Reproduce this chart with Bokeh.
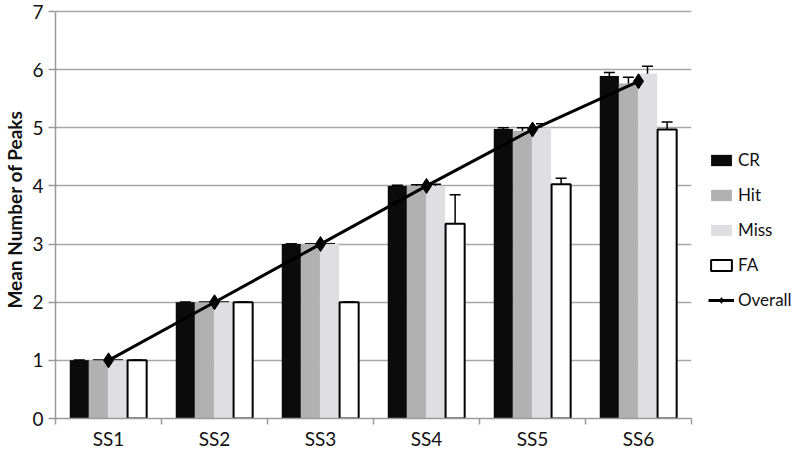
from bokeh.plotting import figure
from bokeh.models import (ColumnDataSource, Range1d, FixedTicker, Whisker, TeeHead,
                          Legend, LegendItem)
from bokeh.embed import file_html
from bokeh.resources import INLINE

categories = ["SS1", "SS2", "SS3", "SS4", "SS5", "SS6"]
series = ["CR", "Hit", "Miss", "FA"]
cr = [1.0, 2.0, 3.0, 4.0, 4.98, 5.89]
hit = [1.0, 2.0, 3.0, 4.0, 4.95, 5.76]
miss = [1.0, 2.0, 3.0, 4.0, 5.0, 5.93]
fa = [1.0, 2.0, 2.0, 3.35, 4.03, 4.97]
cr_err = [0.0, 0.0, 0.0, 0.01, 0.02, 0.06]
hit_err = [0.0, 0.0, 0.0, 0.02, 0.05, 0.11]
miss_err = [0.0, 0.0, 0.0, 0.03, 0.07, 0.13]
fa_err = [0.0, 0.0, 0.0, 0.5, 0.1, 0.13]
overall = [1.0, 2.0, 3.0, 4.0, 4.97, 5.8]
y_ticks = [0, 1, 2, 3, 4, 5, 6, 7]

values = [cr, hit, miss, fa]
errors = [cr_err, hit_err, miss_err, fa_err]
offsets = [-0.275, -0.095, 0.085, 0.27]
fills = ["#0b0b0b", "#b1b1b1", "#dfdfe1", "#ffffff"]
lines = ["#0b0b0b", "#b1b1b1", "#dfdfe1", "#000000"]
line_w = [0, 0, 0, 2]
bar_w = 0.18

FONT = "Lato"

p = figure(frame_width=636, frame_height=418, output_backend="svg", toolbar_location=None,
           x_range=Range1d(0, 6), y_range=Range1d(0, 7.189),
           min_border_left=47, min_border_top=0, min_border_bottom=24,
           min_border_right=101)
p.outline_line_color = None
p.background_fill_color = "white"

centers = [i + 0.5 for i in range(len(categories))]

legend_items = []
for k, name in enumerate(series):
    src = ColumnDataSource(dict(
        x=[c + offsets[k] for c in centers],
        top=values[k],
        upper=[v + e for v, e in zip(values[k], errors[k])],
        lower=[v - e for v, e in zip(values[k], errors[k])],
    ))
    r = p.vbar(x="x", top="top", bottom=0, width=bar_w, source=src,
               fill_color=fills[k], line_color=lines[k],
               line_width=line_w[k] if line_w[k] else 0.1)
    legend_items.append(LegendItem(label=name, renderers=[r]))
    w = Whisker(base="x", upper="upper", lower="lower", source=src,
                line_color="black", line_width=1.5,
                upper_head=TeeHead(size=11, line_color="black", line_width=1.5),
                lower_head=TeeHead(size=11, line_color="black", line_width=1.5))
    p.add_layout(w)

osrc = ColumnDataSource(dict(x=centers, y=overall))
lr = p.line("x", "y", source=osrc, line_color="black", line_width=3)
sr = p.scatter("x", "y", source=osrc, marker="diamond", size=15,
               fill_color="black", line_color="black")
legend_items.append(LegendItem(label="Overall", renderers=[lr, sr]))

# axes
p.xaxis.ticker = FixedTicker(ticks=centers, minor_ticks=list(range(len(categories) + 1)))
p.xaxis.major_label_overrides = {c: lab for c, lab in zip(centers, categories)}
p.xaxis.major_tick_line_color = None
p.xaxis.major_tick_out = 6
p.xaxis.major_tick_in = 0
p.xaxis.minor_tick_out = 6
p.xaxis.minor_tick_in = 0
p.xaxis.minor_tick_line_color = "#9a9a9a"
p.xaxis.minor_tick_line_width = 1.5
p.xaxis.axis_line_color = "#9a9a9a"
p.xaxis.axis_line_width = 1.5
p.xaxis.major_label_text_font = FONT
p.xaxis.major_label_text_font_size = "19px"
p.xaxis.major_label_text_color = "#111111"
p.xaxis.major_label_standoff = 2

p.yaxis.ticker = FixedTicker(ticks=y_ticks)
p.yaxis.bounds = (0, 7)
p.yaxis.minor_tick_line_color = None
p.yaxis.major_tick_out = 7
p.yaxis.major_tick_in = 0
p.yaxis.major_tick_line_color = "#9a9a9a"
p.yaxis.major_tick_line_width = 1.5
p.yaxis.axis_line_color = "#9a9a9a"
p.yaxis.axis_line_width = 1.5
p.yaxis.major_label_text_font = FONT
p.yaxis.major_label_text_font_size = "19px"
p.yaxis.major_label_text_color = "#111111"
p.yaxis.major_label_standoff = 5
p.yaxis.axis_label = "Mean Number of Peaks"
p.yaxis.axis_label_text_font = FONT
p.yaxis.axis_label_text_font_size = "19px"
p.yaxis.axis_label_text_font_style = "bold"
p.yaxis.axis_label_text_color = "#111111"
p.yaxis.axis_label_standoff = 3

p.xgrid.grid_line_color = None
p.ygrid.grid_line_color = "#a6a6a6"
p.ygrid.grid_line_width = 1.5

legend = Legend(items=legend_items, location=(17, 108),
                label_text_font=FONT, label_text_font_size="17px",
                label_text_color="#111111",
                glyph_width=26, glyph_height=14, label_standoff=4,
                spacing=14, padding=4, margin=0,
                border_line_color=None, background_fill_alpha=0)
p.add_layout(legend, "right")

open("out.html", "w").write(file_html(p, INLINE))
